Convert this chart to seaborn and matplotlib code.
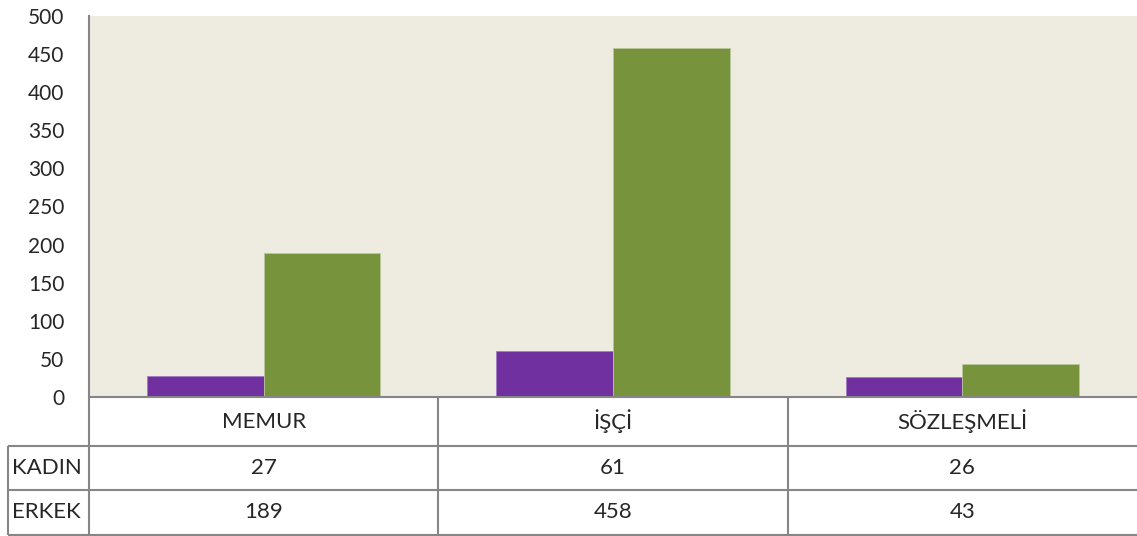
import numpy as np
import pandas as pd
import matplotlib
matplotlib.use("Agg")
import matplotlib.pyplot as plt
import seaborn as sns

categories = ["MEMUR", "İŞÇİ", "SÖZLEŞMELİ"]
series_names = ["KADIN", "ERKEK"]
kadin = [27, 61, 26]
erkek = [189, 458, 43]
y_ticks = list(range(0, 501, 50))

colors = ["#7030A0", "#77933C"]
line_gray = "#868686"

sns.set_style("white")
plt.rcParams["font.family"] = ["Lato", "DejaVu Sans"]

df = pd.DataFrame({
    "kategori": categories * 2,
    "deger": kadin + erkek,
    "seri": [series_names[0]] * 3 + [series_names[1]] * 3,
})

W, H = 1137, 536
fig = plt.figure(figsize=(W / 100, H / 100), dpi=100)

# plot area in pixel coords
left, right, top, bottom = 89, 1137, 16, 397
ax = fig.add_axes([left / W, 1 - bottom / H, (right - left) / W, (bottom - top) / H])
ax.set_facecolor("#EEECE1")

sns.barplot(data=df, x="kategori", y="deger", hue="seri", palette=colors,
            width=0.667, ax=ax, legend=False, saturation=1,
            edgecolor="#B9C79A", linewidth=0.6)
# purple bars get a lighter purple edge
for patch in ax.patches[:3]:
    patch.set_edgecolor("#A27CC0")

ax.set_xlim(-0.5, 2.5)
ax.set_ylim(0, 500)
ax.set_yticks(y_ticks)
ax.set_yticklabels([str(v) for v in y_ticks], fontsize=15)
ax.set_xticks([])
ax.set_xlabel("")
ax.set_ylabel("")
ax.tick_params(axis="y", direction="out", length=5.8, width=1.5, color=line_gray, pad=12)
for s in ["top", "right"]:
    ax.spines[s].set_visible(False)
for s in ["left", "bottom"]:
    ax.spines[s].set_color(line_gray)
    ax.spines[s].set_linewidth(1.5)

# data table drawn under the plot
tab = fig.add_axes([0, 0, 1, 1], facecolor="none")
tab.set_xlim(0, W)
tab.set_ylim(H, 0)
tab.axis("off")

col_w = (right - left) / 3
col_edges = [left + col_w * i for i in range(4)]
row_lines = [446, 490, 535]
lab_left = 8

kw = dict(color=line_gray, lw=1.5, solid_capstyle="butt")
tab.plot([left, left], [bottom, row_lines[-1]], **kw)
for xe in col_edges[1:3]:
    tab.plot([xe, xe], [bottom, row_lines[-1]], **kw)
tab.plot([lab_left, lab_left], [row_lines[0], row_lines[-1]], **kw)
for yl in row_lines:
    tab.plot([lab_left, W], [yl, yl], **kw)

fs = 16
centers = [left + col_w * (i + 0.5) for i in range(3)]
for cx, cat in zip(centers, categories):
    tab.text(cx, (bottom + row_lines[0]) / 2, cat, ha="center", va="center", fontsize=fs)

for row_i, (name, vals) in enumerate(zip(series_names, [kadin, erkek])):
    cy = (row_lines[row_i] + row_lines[row_i + 1]) / 2
    tab.text(lab_left + 4, cy, name, ha="left", va="center", fontsize=fs)
    for cx, v in zip(centers, vals):
        tab.text(cx, cy, str(v), ha="center", va="center", fontsize=fs)

fig.savefig("out.png", dpi=100)
